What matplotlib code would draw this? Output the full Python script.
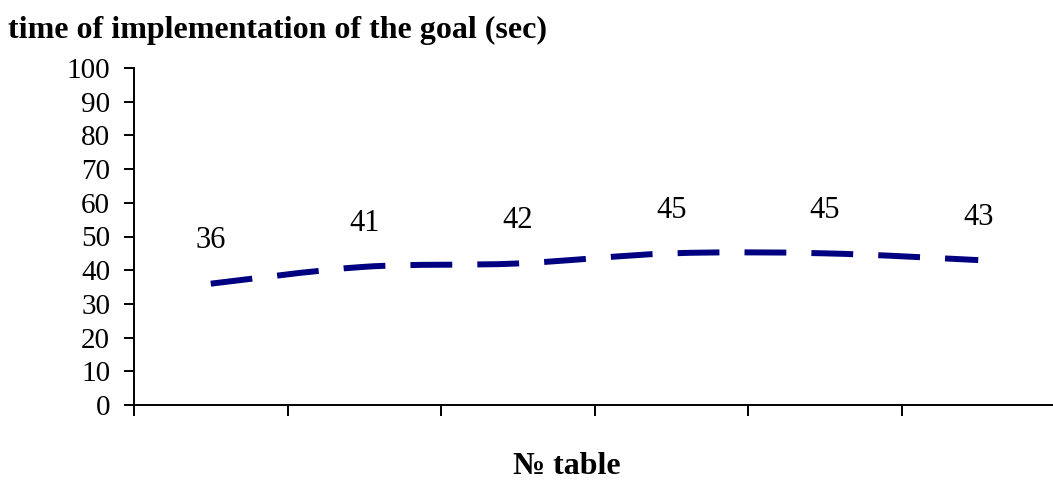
import matplotlib
matplotlib.use('Agg')
import matplotlib.pyplot as plt
from matplotlib.path import Path
from matplotlib.patches import PathPatch

tables = ['1', '2', '3', '4', '5', '6']
times = [36, 41, 42, 45, 45, 43]

plt.rcParams['font.family'] = ['Liberation Serif', 'DejaVu Serif']


def smooth_path(xs, ys):
    # excel-like smoothed line: catmull-rom turned into cubic bezier pieces
    pts = list(zip(xs, ys))
    verts = [pts[0]]
    codes = [Path.MOVETO]
    for i in range(len(pts) - 1):
        p0 = pts[i - 1] if i > 0 else pts[i]
        p1 = pts[i]
        p2 = pts[i + 1]
        p3 = pts[i + 2] if i + 2 < len(pts) else pts[i + 1]
        c1 = (p1[0] + (p2[0] - p0[0]) / 6, p1[1] + (p2[1] - p0[1]) / 6)
        c2 = (p2[0] - (p3[0] - p1[0]) / 6, p2[1] - (p3[1] - p1[1]) / 6)
        verts += [c1, c2, p2]
        codes += [Path.CURVE4] * 3
    return Path(verts, codes)


fig = plt.figure(figsize=(10.53, 4.82), dpi=100)
ax = fig.add_axes([134 / 1053, 77 / 482, 921 / 1053, 337 / 482])

xs = list(range(len(tables)))
patch = PathPatch(smooth_path(xs, times), facecolor='none', edgecolor='#000080',
                  lw=4.3, linestyle=(0, (7, 4.2)), capstyle='butt')
ax.add_patch(patch)

for x, v in zip(xs, times):
    ax.annotate(str(v), (x, v), xytext=(0, 31), textcoords='offset points',
                ha='center', va='center', fontsize=22)

ax.set_xlim(-0.5, len(tables) - 0.5)
ax.set_ylim(0, 100)
ax.set_yticks(range(0, 101, 10))
ax.set_xticks([i - 0.5 for i in range(len(tables) + 1)])
ax.set_xticklabels([])
ax.tick_params(axis='y', labelsize=21, length=7.2, width=1.4, pad=10)
ax.tick_params(axis='x', length=8, width=1.4)
for s in ['top', 'right']:
    ax.spines[s].set_visible(False)
for s in ['left', 'bottom']:
    ax.spines[s].set_linewidth(1.4)

fig.text(8 / 1053, 1 - 30 / 482, 'time of implementation of the goal (sec)',
         fontsize=23, fontweight='bold', ha='left', va='center')
fig.text(567 / 1053, 1 - 474 / 482, '№ table', fontsize=23, fontweight='bold',
         ha='center', va='baseline')

fig.savefig('out.png', dpi=100)
